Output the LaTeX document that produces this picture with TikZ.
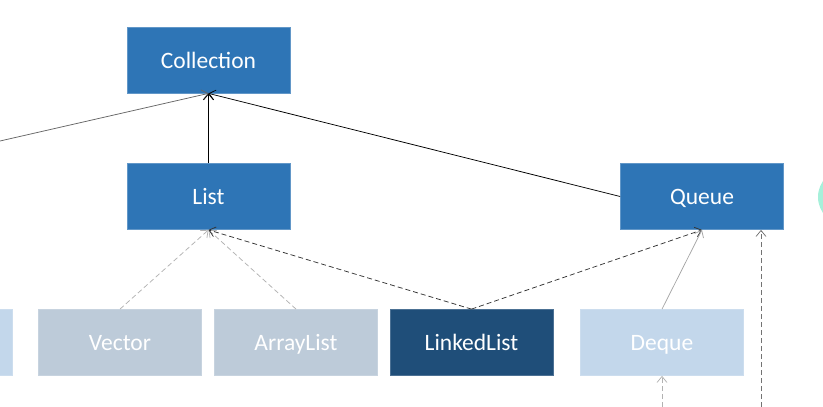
\documentclass[tikz,border=0pt]{standalone}
\usepackage{fontspec}
\setmainfont{Carlito}
\usetikzlibrary{arrows.meta}
\definecolor{midblue}{HTML}{2E75B6}
\definecolor{darkblue}{HTML}{1F4E79}
\definecolor{greyblue}{HTML}{BDCBD9}
\definecolor{paleblue}{HTML}{C3D7EB}
\definecolor{mint}{HTML}{A6F0DA}
\tikzset{
  box/.style={rectangle, minimum width=163pt, minimum height=66pt, inner sep=0pt, text height=19pt, text depth=3pt, text=white, font=\fontsize{23.5}{26}\selectfont, line width=0.8pt},
  ifc/.style={box, fill=midblue, draw=midblue!75!white},
  impl/.style={box, fill=greyblue, draw=greyblue!85!white},
  pale/.style={box, fill=paleblue, draw=paleblue!85!white},
  dark/.style={box, fill=darkblue, draw=darkblue!80!white},
  tip/.style={-{Straight Barb[length=6pt,width=10pt]}, line width=0.75pt},
  solidlink/.style={tip, draw=black},
  dashlink/.style={tip, draw=black!80, dash pattern=on 5pt off 3pt},
  lightdash/.style={tip, draw=black!30, dash pattern=on 5pt off 3pt},
  lightsolid/.style={tip, draw=black!35},
}
\begin{document}
\begin{tikzpicture}[x=1pt,y=-1pt]
\useasboundingbox (0,0) rectangle (823,407);
\begin{scope}
\clip (0,0) rectangle (823,407);
\fill[mint] (846,197) circle (28);
\node[pale] (left) at (-69.5,342.5) {};
\end{scope}
\node[ifc] (coll) at (208.5,60) {Collection};
\node[ifc] (list) at (208.5,196.5) {List};
\node[ifc] (queue) at (702,196.5) {Queue};
\node[impl] (vector) at (120,342.5) {Vector};
\node[impl] (alist) at (296,342.5) {ArrayList};
\node[dark] (llist) at (471.5,342.5) {LinkedList};
\node[pale] (deque) at (662,342.5) {Deque};
\coordinate (lfree) at (0,141);
\coordinate (dfree) at (662,407);
\coordinate (qfree) at (761,407);
\draw[tip, draw=black!60] (lfree) -- (coll.south);
\draw[solidlink] (list.north) -- (coll.south);
\draw[solidlink] (queue.west) -- (coll.south);
\draw[lightdash] (vector.north) -- (list.south);
\draw[lightdash] (alist.north) -- (list.south);
\draw[dashlink] (llist.north) -- (list.south);
\draw[dashlink] (llist.north) -- (queue.south);
\draw[lightsolid] (deque.north) -- (queue.south);
\draw[lightdash] (dfree) -- (deque.south);
\draw[dashlink, draw=black!55] (qfree) -- (qfree |- queue.south);
\end{tikzpicture}
\end{document}
